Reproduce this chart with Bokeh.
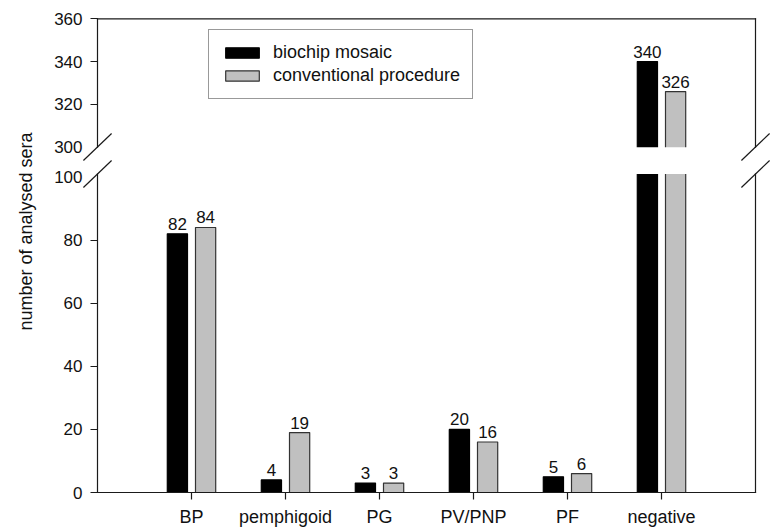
import math
from bokeh.plotting import figure
from bokeh.models import (ColumnDataSource, FixedTicker, LinearAxis, Range1d,
                          LabelSet, Label)
from bokeh.embed import file_html
from bokeh.resources import INLINE
from bokeh.core.properties import value

# ---------------- data ----------------
categories = ["BP", "pemphigoid", "PG", "PV/PNP", "PF", "negative"]
biochip = [82, 4, 3, 20, 5, 340]
conventional = [84, 19, 3, 16, 6, 326]
series_names = ["biochip mosaic", "conventional procedure"]
lower_ticks = [0, 20, 40, 60, 80, 100]
upper_ticks = [300, 320, 340, 360]
break_ticks = [100, 300]
y_title = "number of analysed sera"

# ---------------- style / geometry ----------------
FONT = "Liberation Sans"
TXT = "#111111"
AX = "#1a1a1a"
AXW = 1.2
BLACK = "#000000"
GRAY = "#c0c0c0"
GRAY_LINE = "#333333"
W, H = 770, 527          # frame = whole canvas
X0, XS = 97, 94          # pixel of x=0, pixels per category step
Y0, YS = 492, 3.155      # pixel of y=0, pixels per unit (lower segment)
U0 = (Y0 - 146.7) / YS   # axis position of 300 (start of upper segment)
K = 2.14 / YS            # compression of the upper segment
GAP_LO = 100.95          # top of lower segment
OFF = 0.15               # bar dodge
BW = 0.215               # bar width
BRK_DX = 0.15            # half width of break marks
TITLE_PX = (25, 231)     # pixel position of the y title


def T(v):
    """broken-axis mapping: 0-100 linear, 300-360 compressed above a gap"""
    return v if v <= 200 else U0 + (v - 300) * K


n = len(categories)
xs = list(range(1, n + 1))
TOP_Y = T(upper_ticks[-1])

p = figure(frame_width=W, frame_height=H,
           x_range=Range1d(-X0 / XS, (W - X0) / XS),
           y_range=Range1d((Y0 - H) / YS, Y0 / YS),
           output_backend="svg", toolbar_location=None,
           min_border=0, x_axis_location=None, y_axis_location=None)
p.outline_line_color = None
p.grid.grid_line_color = None
p.background_fill_color = "white"
p.border_fill_color = "white"

# ---------------- bars ----------------
src = ColumnDataSource(dict(
    xb=[x - OFF for x in xs], xc=[x + OFF for x in xs],
    b=[T(v) for v in biochip], c=[T(v) for v in conventional]))
p.vbar(x="xb", top="b", bottom=0, width=BW, source=src,
       fill_color=BLACK, line_color=BLACK, line_width=1.2,
       legend_label=series_names[0])
p.vbar(x="xc", top="c", bottom=0, width=BW, source=src,
       fill_color=GRAY, line_color=GRAY_LINE, line_width=1.2,
       legend_label=series_names[1])

# white gap of the broken axis
p.quad(left=[0], right=[n + 1], bottom=[GAP_LO], top=[U0],
       fill_color="white", line_color=None)

# frame lines (broken at the gap)
segs = dict(x0=[], y0=[], x1=[], y1=[])
def seg(a, b, c, d):
    segs["x0"].append(a); segs["y0"].append(b)
    segs["x1"].append(c); segs["y1"].append(d)
for xe in (0, n + 1):
    seg(xe, 0, xe, GAP_LO)
    seg(xe, U0, xe, TOP_Y)
seg(0, TOP_Y, n + 1, TOP_Y)
seg(0, 0, n + 1, 0)
p.segment(x0="x0", y0="y0", x1="x1", y1="y1", source=ColumnDataSource(segs),
          line_color=AX, line_width=AXW, line_cap="square")

# break marks
bm = dict(x0=[], y0=[], x1=[], y1=[])
for xe in (0, n + 1):
    for ya, yb in (((Y0 - 160) / YS, (Y0 - 133) / YS),
                   ((Y0 - 187) / YS, (Y0 - 160) / YS)):
        bm["x0"].append(xe - BRK_DX); bm["y0"].append(ya)
        bm["x1"].append(xe + BRK_DX); bm["y1"].append(yb)
p.segment(x0="x0", y0="y0", x1="x1", y1="y1", source=ColumnDataSource(bm),
          line_color=AX, line_width=AXW)

# value labels
lx, ly, lt = [], [], []
for x, b, c in zip(xs, biochip, conventional):
    for off, v in ((-OFF, b), (OFF, c)):
        lx.append(x + off); ly.append(T(v)); lt.append(str(v))
p.add_layout(LabelSet(x="x", y="y", text="t",
                      source=ColumnDataSource(dict(x=lx, y=ly, t=lt)),
                      text_align="center", text_baseline="alphabetic",
                      y_offset=4, text_font=value(FONT),
                      text_font_size="17px", text_color=TXT))

# ---------------- axes ----------------
all_y = lower_ticks + upper_ticks
ya = LinearAxis(fixed_location=0,
                ticker=FixedTicker(ticks=[T(v) for v in all_y],
                                   minor_ticks=[T(v) for v in all_y
                                                if v not in break_ticks]),
                major_label_overrides={T(v): str(v) for v in all_y})
ya.axis_line_color = None
ya.major_tick_line_color = None
ya.major_tick_out = 7
ya.major_tick_in = 0
ya.minor_tick_out = 7
ya.minor_tick_in = 0
ya.minor_tick_line_color = AX
ya.minor_tick_line_width = AXW
ya.major_label_standoff = 8
ya.major_label_text_font = FONT
ya.major_label_text_font_size = "17px"
ya.major_label_text_color = TXT
p.add_layout(ya, "left")

xa = LinearAxis(fixed_location=0,
                ticker=FixedTicker(ticks=xs, minor_ticks=[]),
                major_label_overrides={x: c for x, c in zip(xs, categories)})
xa.axis_line_color = None
xa.major_tick_out = 7
xa.major_tick_in = 0
xa.major_tick_line_color = AX
xa.major_tick_line_width = AXW
xa.major_label_standoff = 7
xa.major_label_text_font = FONT
xa.major_label_text_font_size = "18px"
xa.major_label_text_color = TXT
p.add_layout(xa, "below")

p.add_layout(Label(x=(TITLE_PX[0] - X0) / XS, y=(Y0 - TITLE_PX[1]) / YS,
                   text=y_title, angle=math.pi / 2, text_align="center",
                   text_baseline="alphabetic", text_font=FONT,
                   text_font_size="18px", text_color=TXT))

# ---------------- legend ----------------
lg = p.legend[0]
lg.location = (208, H - 99)
lg.label_text_font = FONT
lg.label_text_font_size = "18px"
lg.label_text_color = TXT
lg.glyph_width = 42
lg.glyph_height = 13
lg.label_height = 20
lg.label_standoff = 10
lg.spacing = 2
lg.padding = 12
lg.margin = 0
lg.border_line_color = "#333333"
lg.border_line_width = 1.2
lg.background_fill_color = "white"
lg.background_fill_alpha = 1.0

open("out.html", "w").write(file_html(p, INLINE))
